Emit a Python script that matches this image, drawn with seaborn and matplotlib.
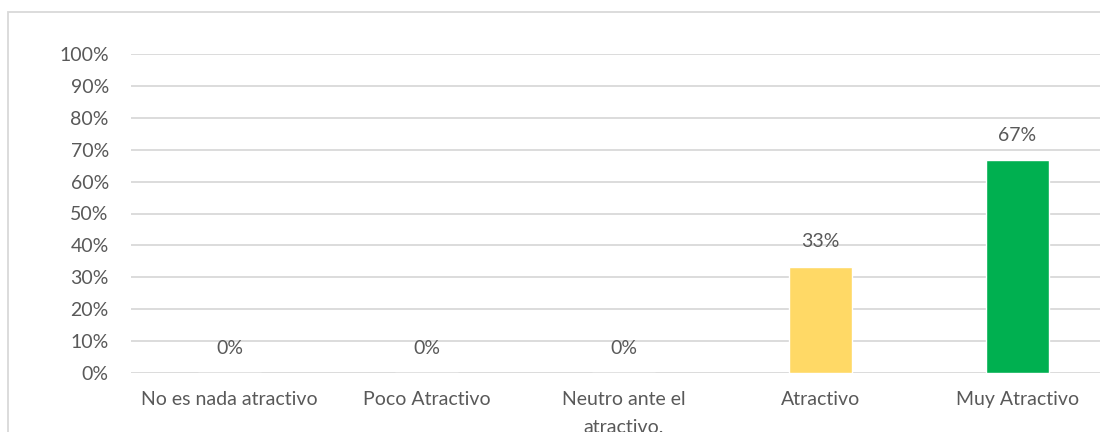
import matplotlib
matplotlib.use("Agg")
import matplotlib.pyplot as plt
import seaborn as sns
import pandas as pd
from matplotlib.patches import Rectangle
from matplotlib.ticker import PercentFormatter

categories = ["No es nada atractivo", "Poco Atractivo", "Neutro ante el\natractivo.",
              "Atractivo", "Muy Atractivo"]
values = [0.0, 0.0, 0.0, 1 / 3, 2 / 3]
bar_colors = ["#4472C4", "#ED7D31", "#A5A5A5", "#FFD966", "#00B050"]
yticks = [i / 10 for i in range(11)]

df = pd.DataFrame({"categoria": categories, "valor": values})

sns.set_theme(style="white")
plt.rcParams["font.family"] = ["Lato", "DejaVu Sans"]

text_color = "#595959"
grid_color = "#D9D9D9"
fs = 14

fig = plt.figure(figsize=(11, 4.32), dpi=100)
ax = fig.add_axes([131 / 1100, 1 - 373 / 432, 985 / 1100, 319 / 432])

sns.barplot(data=df, x="categoria", y="valor", hue="categoria",
            palette=bar_colors, legend=False, width=0.315, ax=ax,
            saturation=1)

ax.set_ylim(0, 1)
ax.set_yticks(yticks)
ax.yaxis.set_major_formatter(PercentFormatter(1.0, decimals=0))
ax.set_xlabel("")
ax.set_ylabel("")
ax.set_axisbelow(True)
ax.yaxis.grid(True, color=grid_color, linewidth=1.3)
for s in ax.spines.values():
    s.set_visible(False)
ax.tick_params(axis="both", length=0, labelsize=fs, colors=text_color)
ax.tick_params(axis="x", pad=13)
ax.tick_params(axis="y", pad=16)
for lbl in ax.get_xticklabels():
    lbl.set_linespacing(1.75)
    lbl.set_verticalalignment("top")

for i, v in enumerate(values):
    ax.annotate(f"{v:.0%}", (i, v), xytext=(0, 18), textcoords="offset points",
                ha="center", va="center", fontsize=fs, color=text_color)

fig.patches.append(Rectangle((8 / 1100, -0.1), 1.2, 0.1 + 1 - 12 / 432,
                             transform=fig.transFigure, fill=False,
                             edgecolor=grid_color, linewidth=1.3))

fig.savefig("out.png", dpi=100, facecolor="white")
